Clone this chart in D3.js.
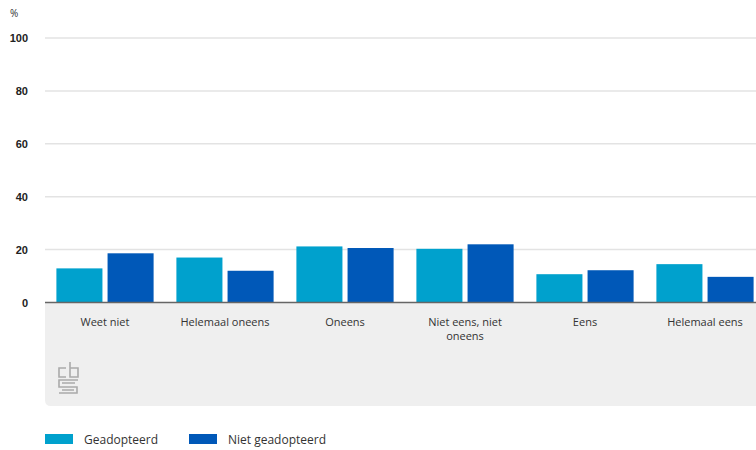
<!DOCTYPE html>
<html><head><meta charset="utf-8">
<script src="https://cdn.jsdelivr.net/npm/d3@7"></script>
<style>body{margin:0;background:#fff;}svg{display:block;font-family:"Open Sans",sans-serif;}</style>
</head><body>
<svg id="c" width="756" height="450"></svg>
<script>
const categories = [["Weet niet"],["Helemaal oneens"],["Oneens"],["Niet eens, niet","oneens"],["Eens"],["Helemaal eens"]];
const seriesNames = ["Geadopteerd","Niet geadopteerd"];
const geadopteerd = [12.9, 17.0, 21.2, 20.3, 10.7, 14.5];
const nietGeadopteerd = [18.6, 12.0, 20.6, 22.0, 12.2, 9.7];
const yTicks = [0,20,40,60,80,100];
const colors = ["#00a1cd","#0058b8"];

const svg = d3.select("#c");
const x0 = d3.scaleBand().domain(d3.range(categories.length)).range([45,765]).paddingInner(0.19).paddingOuter(0.095);
const x1 = d3.scaleBand().domain([0,1]).range([0,x0.bandwidth()]).paddingInner(0.1);
const y = d3.scaleLinear().domain([0,100]).range([302.5,38]);

// grey category panel
svg.append("path")
  .attr("d", `M45,303 H760 V406 H51 Q45,406 45,400 Z`)
  .attr("fill","#efefef");

// y axis labels
const yAxis = d3.axisLeft(y).tickValues(yTicks).tickSize(0).tickPadding(0);
const gy = svg.append("g").attr("transform","translate(28,0)").call(yAxis);
gy.select(".domain").remove();
gy.selectAll("text").attr("font-size","11px").attr("fill","#222").attr("font-weight","600").attr("text-anchor","end").attr("dy","0.32em");
// gridlines
svg.append("g").selectAll("line").data(yTicks.filter(d=>d>0)).join("line")
  .attr("x1",45).attr("x2",756).attr("y1",d=>y(d)).attr("y2",d=>y(d))
  .attr("stroke","#e3e3e3").attr("stroke-width",1.5);

svg.append("text").attr("x",10).attr("y",17).text("%").attr("font-size","10px").attr("fill","#333");

// bars
const data = categories.map((c,i)=>[geadopteerd[i], nietGeadopteerd[i]]);
const groups = svg.append("g").selectAll("g").data(data).join("g")
  .attr("transform",(d,i)=>`translate(${x0(i)},0)`);
groups.selectAll("rect").data(d=>d).join("rect")
  .attr("x",(d,j)=>x1(j)).attr("width",x1.bandwidth())
  .attr("y",d=>y(d)).attr("height",d=>y(0)-y(d))
  .attr("fill",(d,j)=>colors[j]);

// baseline
svg.append("line").attr("x1",45).attr("x2",756).attr("y1",y(0)).attr("y2",y(0)).attr("stroke","#666").attr("stroke-width",1.5);

// category labels
const xl = svg.append("g").selectAll("text").data(categories).join("text")
  .attr("x",(d,i)=>x0(i)+x0.bandwidth()/2).attr("y",326)
  .attr("text-anchor","middle").attr("font-size","11px").attr("fill","#333");
xl.selectAll("tspan").data(d=>d).join("tspan")
  .attr("x",function(){return this.parentNode.getAttribute("x");})
  .attr("dy",(d,k)=>k===0?0:"1.3em").text(d=>d);

// CBS logo (simplified)
const lg = svg.append("g").attr("transform","translate(58,362)").attr("fill","none").attr("stroke","#aaa").attr("stroke-width",1.6);
lg.append("path").attr("d","M8,6 H1 V15 H8");
lg.append("path").attr("d","M12,0 V15 H20 V6 H12");
lg.append("path").attr("d","M20,18 H1 V25 H19 V31 H1");
lg.append("path").attr("d","M4,21 H17 M4,28 H16");

// legend
const leg = svg.append("g").selectAll("g").data(seriesNames).join("g")
  .attr("transform",(d,i)=>`translate(${[45,189][i]},434)`);
leg.append("rect").attr("width",28).attr("height",10).attr("fill",(d,i)=>colors[i]);
leg.append("text").attr("x",39).attr("y",9.5).text(d=>d).attr("font-size","12px").attr("fill","#333");
</script>
</body></html>
